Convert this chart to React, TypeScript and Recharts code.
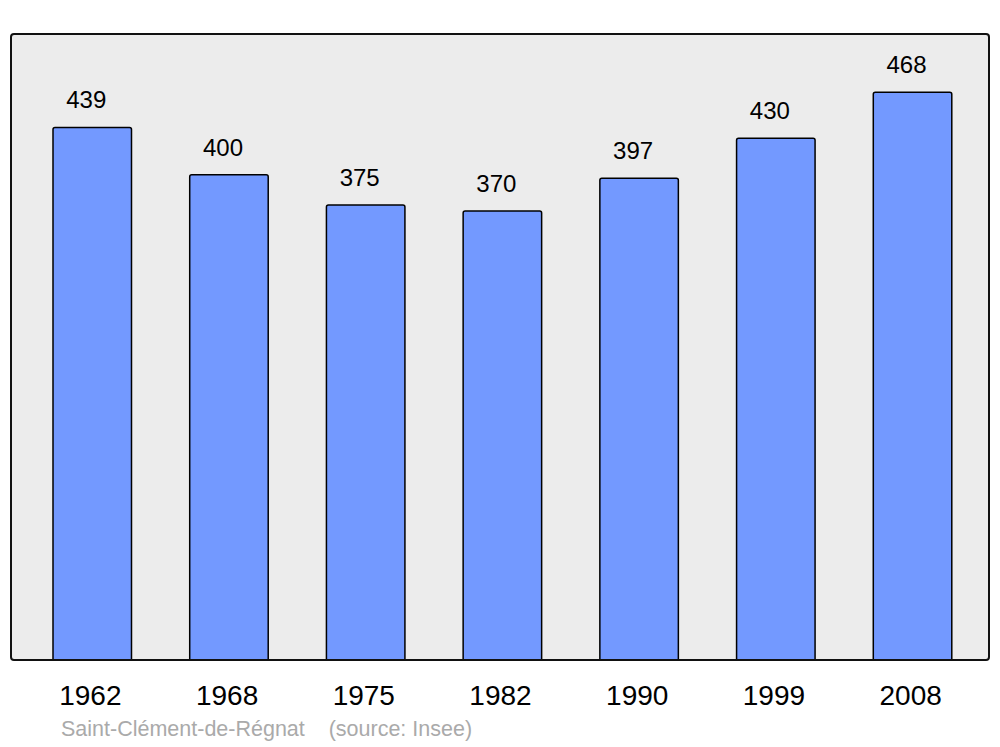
import { BarChart, Bar, XAxis, YAxis, CartesianGrid, LabelList } from 'recharts';

// census years and population (Insee)
const years = ['1962', '1968', '1975', '1982', '1990', '1999', '2008'];
const population = [439, 400, 375, 370, 397, 430, 468];

const data = years.map((year, i) => ({ year, pop: population[i] }));

export default function App() {
  return (
    <div
      style={{
        position: 'absolute',
        left: 0,
        top: 0,
        width: 1000,
        height: 747,
        background: '#fff',
        fontFamily: '"Liberation Sans", Arial, sans-serif',
      }}
    >
      <BarChart
        width={1000}
        height={747}
        data={data}
        margin={{ top: 34, right: 11, bottom: 27, left: 11 }}
        barSize={78.5}
      >
        <CartesianGrid fill="#ececec" horizontal={false} vertical={false} stroke="none" />
        <XAxis
          dataKey="year"
          height={60}
          axisLine={false}
          tickLine={false}
          tickSize={0}
          tickMargin={25}
          padding={{ left: 13, right: 8 }}
          tick={{ fill: '#000', fontSize: 28, dx: -2 }}
          interval={0}
        />
        <YAxis hide domain={[0, 516]} />
        <Bar
          dataKey="pop"
          fill="#7399ff"
          stroke="#000"
          strokeWidth={1.5}
          radius={[2, 2, 0, 0]}
          isAnimationActive={false}
        >
          <LabelList dataKey="pop" position="top" offset={19} fill="#000" fontSize={24} dx={-6} />
        </Bar>
      </BarChart>
      {/* frame around the plot area */}
      <div
        style={{
          position: 'absolute',
          left: 10,
          top: 33,
          width: 980,
          height: 628,
          boxSizing: 'border-box',
          border: '2px solid #111',
          borderRadius: 4,
          pointerEvents: 'none',
        }}
      />
      <div
        style={{
          position: 'absolute',
          left: 61,
          top: 717,
          fontSize: 21.5,
          color: '#aaa',
          whiteSpace: 'pre',
        }}
      >
        {'Saint-Clément-de-Régnat    (source: Insee)'}
      </div>
    </div>
  );
}
